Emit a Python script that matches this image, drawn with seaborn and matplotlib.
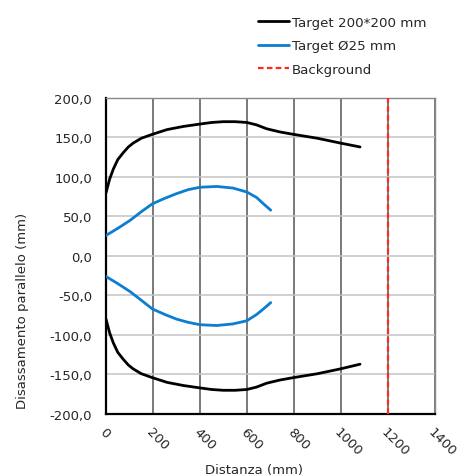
import matplotlib.pyplot as plt
import matplotlib.ticker as mticker
from matplotlib.lines import Line2D
import pandas as pd
import seaborn as sns

# values
big_x = [0, 15, 31, 50, 74, 95, 116, 150, 197, 260, 330, 400, 450, 499, 550, 599, 640, 684, 740, 797, 900, 996, 1081]
big_top = [80, 97, 110, 122, 131, 138, 143, 149, 154, 160, 164, 167, 169, 170, 170, 169, 166, 161, 157, 154, 149, 143, 138]
big_bottom = [-80, -97, -110, -122, -131, -138, -143, -149, -154, -160, -164, -167, -169, -170, -170, -169, -166, -161, -157, -154, -149, -143, -137]

small_x = [0, 50, 102, 150, 197, 250, 301, 350, 400, 471, 540, 599, 641, 670, 701]
small_top = [26, 35, 45, 56, 66, 73, 79, 84, 87, 88, 86, 81, 74, 66, 58]
small_bottom = [-26, -35, -45, -56, -67, -74, -80, -84, -87, -88, -86, -82, -74, -67, -59]

background_x = 1200
labels = ["Target 200*200 mm", "Target Ø25 mm", "Background"]
colors = ["#000000", "#0a7fcf", "#ff2a1a"]

sns.set_style("white")
plt.rcParams['font.family'] = ['DejaVu Sans']
plt.rcParams['font.size'] = 9.5

fig = plt.figure(figsize=(4.63, 4.77), dpi=100)
ax = fig.add_axes([0.229, 0.13, 0.7105, 0.6625])

big = pd.DataFrame({"x": big_x, "top": big_top, "bottom": big_bottom})
small = pd.DataFrame({"x": small_x, "top": small_top, "bottom": small_bottom})

for col in ["top", "bottom"]:
    sns.lineplot(data=big, x="x", y=col, ax=ax, color=colors[0], lw=2.0, sort=False, zorder=4)
    sns.lineplot(data=small, x="x", y=col, ax=ax, color=colors[1], lw=2.0, sort=False, zorder=4)
ax.axvline(background_x, color=colors[2], ls=(0, (2.5, 1.5)), lw=1.6, zorder=5)

ax.set_xlim(0, 1400)
ax.set_ylim(-200, 200)
ax.set_xticks(range(0, 1401, 200))
ax.set_yticks(range(-200, 201, 50))
ax.yaxis.set_major_formatter(mticker.FuncFormatter(lambda v, p: f"{v:.1f}".replace(".", ",")))
ax.grid(axis="x", color="#555555", lw=1.1)
ax.grid(axis="y", color="#c4c4c4", lw=1.1)
ax.set_axisbelow(True)

for s in ["left", "bottom"]:
    ax.spines[s].set_color("black")
    ax.spines[s].set_linewidth(1.6)
for s in ["top", "right"]:
    ax.spines[s].set_color("#888888")
    ax.spines[s].set_linewidth(1.0)

ax.tick_params(axis="both", direction="out", length=4, width=1.2, color="black", labelsize=9.5)
ax.tick_params(axis="y", pad=6)
ax.tick_params(axis="x", pad=4)
for t in ax.get_xticklabels():
    t.set_rotation(-45)
    t.set_ha("left")
    t.set_va("top")
    t.set_rotation_mode("anchor")

ax.set_xlabel("Distanza (mm)", fontsize=9.5)
ax.set_ylabel("Disassamento parallelo (mm)", fontsize=9.5)
ax.xaxis.set_label_coords(0.45, -0.155)
ax.yaxis.set_label_coords(-0.235, 0.33)

handles = [Line2D([], [], color=colors[0], lw=2.0),
           Line2D([], [], color=colors[1], lw=2.0),
           Line2D([], [], color=colors[2], lw=1.6, ls=(0, (2.5, 1.5)))]
fig.legend(handles, labels, loc="upper left", bbox_to_anchor=(0.532, 0.99), frameon=False,
           handlelength=2.3, handletextpad=0.2, labelspacing=0.8, fontsize=9.6)

fig.savefig("out.png", dpi=100)
